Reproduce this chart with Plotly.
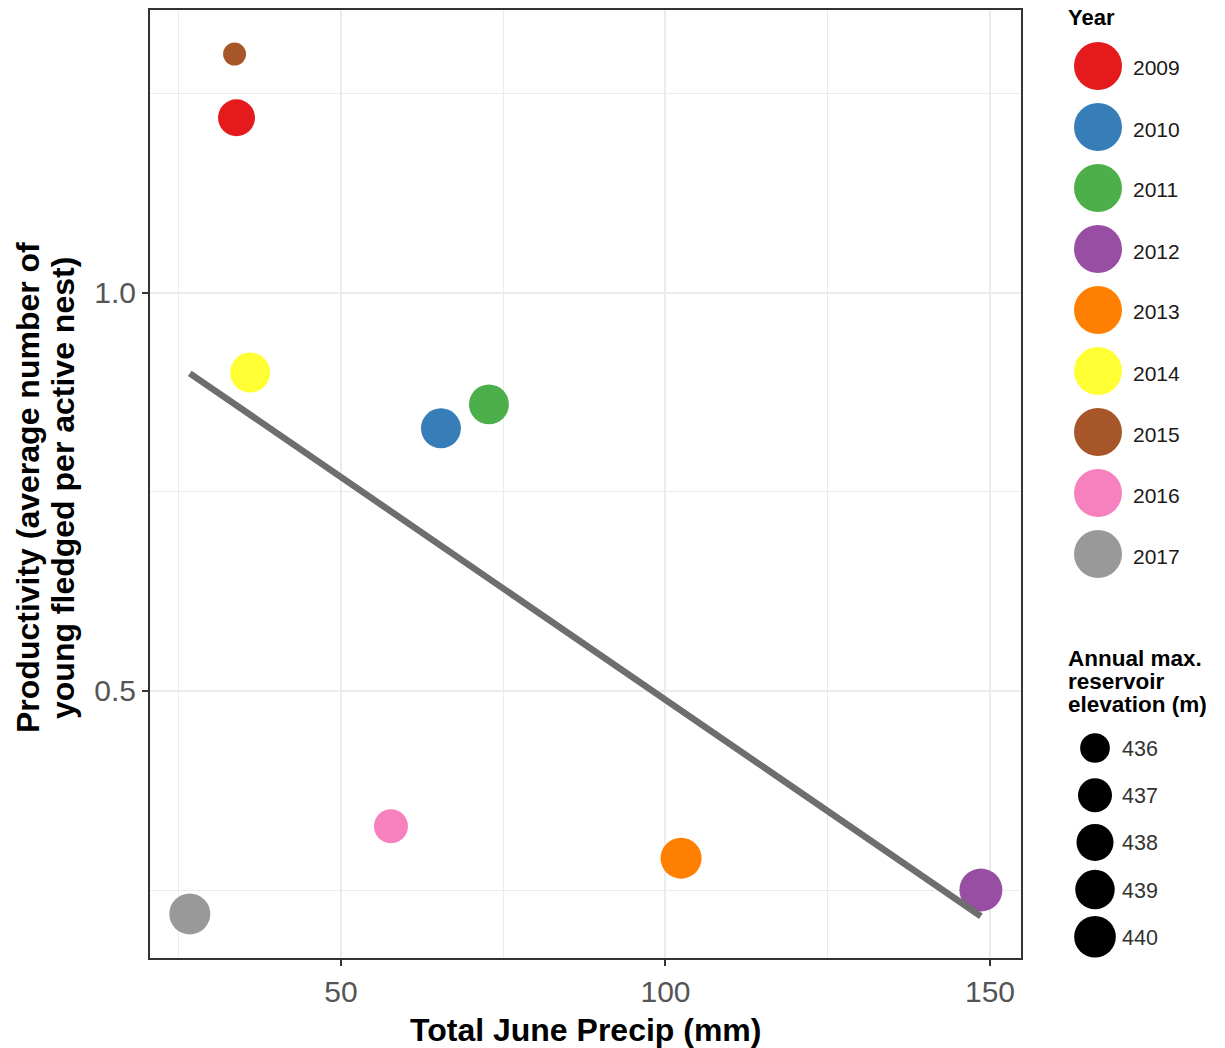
import numpy as np
import plotly.graph_objects as go

# ---- data -------------------------------------------------------------
years = ["2009", "2010", "2011", "2012", "2013", "2014", "2015", "2016", "2017"]
june_precip_mm = [33.9, 65.4, 72.8, 148.6, 102.4, 36.0, 33.6, 57.7, 26.7]
productivity = [1.22, 0.83, 0.86, 0.25, 0.29, 0.90, 1.30, 0.33, 0.22]
max_elevation_m = [438.0, 439.2, 439.2, 440.7, 439.7, 439.2, 435.4, 437.0, 439.7]
year_colors = ["#E41A1C", "#377EB8", "#4DAF4A", "#984EA3", "#FF7F00",
               "#FFFF33", "#A65628", "#F781BF", "#999999"]

# fitted linear trend (end points over the observed precipitation range)
trend_precip_mm = [26.7, 148.6]
trend_productivity = [0.899, 0.217]

elevation_breaks = [436, 437, 438, 439, 440]

# ---- layout constants ----------------------------------------------------
W, H = 1225, 1048
ML, MB = 150, 90
PAPER_W = W - ML
PAPER_H = H - MB
PLOT_RIGHT_PX = 1021
PLOT_TOP_PX = 9.5
FONT = "Liberation Sans, Arial, sans-serif"

SIZE_MIN_PX, SIZE_MAX_PX = 23, 43
e_lo, e_hi = min(max_elevation_m), max(max_elevation_m)


def elevation_to_px(e):
    """Area-style size scale: diameter grows with sqrt of rescaled value."""
    t = (np.asarray(e, dtype=float) - e_lo) / (e_hi - e_lo)
    t = np.clip(t, 0, 1)
    return SIZE_MIN_PX + (SIZE_MAX_PX - SIZE_MIN_PX) * np.sqrt(t)


def px_x(px):
    return (px - ML) / PAPER_W


def px_y(py):
    return (PAPER_H - py) / PAPER_H


fig = go.Figure()

# observations: colour by year, size by reservoir elevation
fig.add_trace(go.Scatter(
    x=june_precip_mm, y=productivity, mode="markers",
    marker=dict(color=year_colors, size=elevation_to_px(max_elevation_m),
                opacity=1, line=dict(width=0)),
    text=years, hovertemplate="%{text}: %{x} mm, %{y}<extra></extra>",
    showlegend=False, xaxis="x", yaxis="y",
))

# linear trend
fig.add_trace(go.Scatter(
    x=trend_precip_mm, y=trend_productivity, mode="lines",
    line=dict(color="#6E6E6E", width=6.5),
    hoverinfo="skip", showlegend=False, xaxis="x", yaxis="y",
))

# ---- legend keys drawn on a pixel-unit helper axis ----------------------
YEAR_KEY_X, YEAR_KEY_Y0, YEAR_KEY_STEP, YEAR_KEY_SIZE = 1098, 66, 61, 48
SIZE_KEY_X, SIZE_KEY_Y0, SIZE_KEY_STEP = 1095, 748, 47.2

year_key_y = [YEAR_KEY_Y0 + YEAR_KEY_STEP * i for i in range(len(years))]
size_key_y = [SIZE_KEY_Y0 + SIZE_KEY_STEP * i for i in range(len(elevation_breaks))]

fig.add_trace(go.Scatter(
    x=[YEAR_KEY_X] * len(years), y=year_key_y, mode="markers",
    marker=dict(color=year_colors, size=YEAR_KEY_SIZE, opacity=1, line=dict(width=0)),
    hoverinfo="skip", showlegend=False, cliponaxis=False,
    xaxis="x2", yaxis="y2",
))
fig.add_trace(go.Scatter(
    x=[SIZE_KEY_X] * len(elevation_breaks), y=size_key_y, mode="markers",
    marker=dict(color="#000000", size=elevation_to_px(elevation_breaks),
                opacity=1, line=dict(width=0)),
    hoverinfo="skip", showlegend=False, cliponaxis=False,
    xaxis="x2", yaxis="y2",
))

annotations = []


def label(text, px, py, size, color="#1A1A1A", bold=False, anchor="left", angle=0):
    annotations.append(dict(
        text=f"<b>{text}</b>" if bold else text,
        x=px_x(px), y=px_y(py), xref="paper", yref="paper",
        xanchor=anchor, yanchor="middle", showarrow=False, textangle=angle,
        font=dict(family=FONT, size=size, color=color),
    ))


label("Year", 1066, 18, 22, color="#000000", bold=True)
for yr, yy in zip(years, year_key_y):
    label(yr, 1131, yy + 2, 21)

for txt, yy in zip(["Annual max.", "reservoir", "elevation (m)"], [658, 681, 704]):
    label(txt, 1066, yy, 22.5, color="#000000", bold=True)
for br, yy in zip(elevation_breaks, size_key_y):
    label(str(br), 1120, yy + 1, 21.5, color="#333333")

# axis titles
label("Total June Precip (mm)", (ML + PLOT_RIGHT_PX) / 2, 1030, 32,
      color="#000000", bold=True, anchor="center")
label("Productivity (average number of", 28, 488, 32,
      color="#000000", bold=True, anchor="center", angle=-90)
label("young fledged per active nest)", 63, 488, 32,
      color="#000000", bold=True, anchor="center", angle=-90)

GRID = "#EBEBEB"
FRAME = "#333333"
axis_common = dict(
    showgrid=True, gridcolor=GRID, gridwidth=1.5,
    showline=True, mirror=True, linecolor=FRAME, linewidth=2,
    ticks="outside", ticklen=6, tickwidth=1.5, tickcolor=FRAME,
    tickfont=dict(family=FONT, size=30, color="#555555"),
    zeroline=False, tick0=0, layer="below traces",
)

fig.update_layout(
    width=W, height=H, autosize=False,
    margin=dict(l=ML, r=0, t=0, b=MB, pad=0),
    paper_bgcolor="white", plot_bgcolor="white",
    font=dict(family=FONT),
    showlegend=False,
    xaxis=dict(
        domain=[0, (PLOT_RIGHT_PX - ML) / PAPER_W],
        range=[20.57, 154.78], dtick=50,
        minor=dict(dtick=25, tick0=0, showgrid=True, gridcolor=GRID, gridwidth=1, ticks=""),
        **axis_common,
    ),
    yaxis=dict(
        domain=[0, (PAPER_H - PLOT_TOP_PX) / PAPER_H],
        range=[0.1646, 1.356], dtick=0.5, tickformat=".1f",
        minor=dict(dtick=0.25, tick0=0, showgrid=True, gridcolor=GRID, gridwidth=1, ticks=""),
        **axis_common,
    ),
    xaxis2=dict(domain=[px_x(1040), 1], range=[1040, W], visible=False,
                fixedrange=True, anchor="y2"),
    yaxis2=dict(domain=[0, 1], range=[PAPER_H, 0], visible=False,
                fixedrange=True, anchor="x2"),
    annotations=annotations,
)

fig.write_html("out.html")
